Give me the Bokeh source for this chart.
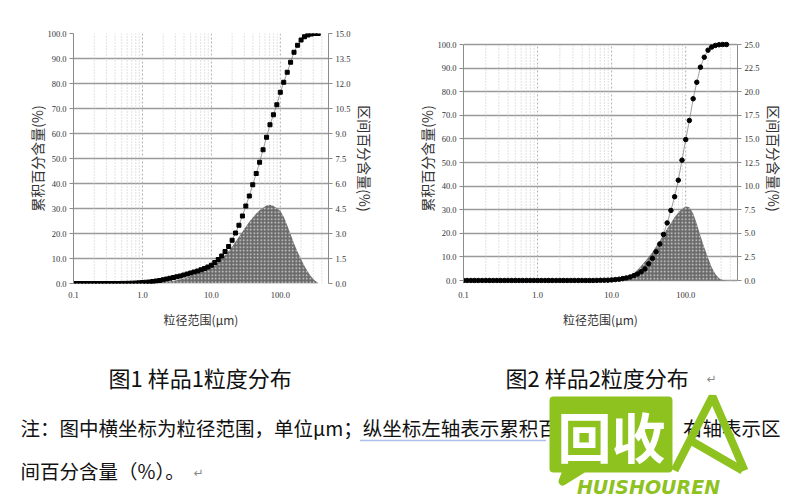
from bokeh.plotting import figure
from bokeh.models import Range1d, LinearAxis, FixedTicker, PrintfTickFormatter, Label
from bokeh.layouts import column, row
from bokeh.embed import file_html
from bokeh.resources import INLINE
from bokeh.core.properties import value

# ---------------- data ----------------
# particle size bins (um)
sizes = [0.100, 0.112, 0.126, 0.141, 0.158, 0.178, 0.200, 0.224, 0.251, 0.282,
         0.316, 0.355, 0.398, 0.447, 0.501, 0.562, 0.631, 0.708, 0.794, 0.891,
         1.00, 1.12, 1.26, 1.41, 1.58, 1.78, 2.00, 2.24, 2.51, 2.82,
         3.16, 3.55, 3.98, 4.47, 5.01, 5.62, 6.31, 7.08, 7.94, 8.91,
         10.0, 11.2, 12.6, 14.1, 15.8, 17.8, 20.0, 22.4, 25.1, 28.2,
         31.6, 35.5, 39.8, 44.7, 50.1, 56.2, 63.1, 70.8, 79.4, 89.1,
         100, 112, 126, 141, 158, 178, 200, 224, 251, 282, 316, 355]

# sample 1: cumulative % (left axis) and interval % (right axis)
cum1 = [0, 0, 0, 0, 0, 0, 0, 0, 0, 0, 0, 0, 0, 0, 0.03, 0.05, 0.08, 0.12, 0.18, 0.26,
        0.4, 0.5, 0.6, 0.8, 1.0, 1.2, 1.5, 1.8, 2.1, 2.4, 2.7, 3.0, 3.4, 3.8, 4.2, 4.6, 5.0, 5.5, 6.0, 6.6,
        7.3, 8.4, 9.6, 11.0, 12.8, 14.8, 17.3, 20.2, 23.3, 27.0, 31.0, 35.0, 39.5, 44.0, 48.5, 53.5, 58.5, 63.5, 67.5, 71.5,
        76.5, 80.5, 84.5, 88.5, 92.5, 95.3, 97.4, 98.7, 99.4, 99.8, 100, 100]
dist1 = [0, 0, 0, 0, 0, 0, 0, 0, 0, 0, 0, 0, 0, 0, 0, 0, 0, 0, 0, 0,
         0, 0.01, 0.02, 0.03, 0.05, 0.065, 0.08, 0.1, 0.13, 0.16, 0.2, 0.25, 0.3, 0.37, 0.45, 0.53, 0.62, 0.7, 0.8, 0.88,
         0.95, 1.1, 1.3, 1.5, 1.7, 1.95, 2.2, 2.5, 2.8, 3.1, 3.4, 3.7, 3.95, 4.2, 4.4, 4.55, 4.68, 4.72, 4.65, 4.52,
         4.35, 4.0, 3.5, 2.95, 2.4, 1.9, 1.45, 1.05, 0.7, 0.4, 0.18, 0.03]

# sample 2
cum2 = [0, 0, 0, 0, 0, 0, 0, 0, 0, 0, 0, 0, 0, 0, 0, 0, 0, 0, 0, 0,
        0, 0, 0, 0, 0, 0, 0, 0, 0, 0, 0, 0, 0, 0, 0, 0, 0.05, 0.07, 0.1, 0.15,
        0.25, 0.38, 0.55, 0.8, 1.1, 1.5, 2.1, 2.8, 3.7, 4.9, 7.1, 9.4, 12.2, 15.5, 19.5, 24.4, 29.7, 35.5, 42.5, 51.0,
        59.7, 67.8, 77.0, 84.0, 90.4, 94.6, 97.6, 98.9, 99.6, 99.9, 100, 100]
dist2 = [0, 0, 0, 0, 0, 0, 0, 0, 0, 0, 0, 0, 0, 0, 0, 0, 0, 0, 0, 0,
         0, 0, 0, 0, 0, 0, 0, 0, 0, 0, 0, 0, 0, 0, 0, 0, 0, 0, 0, 0,
         0.0, 0.05, 0.1, 0.2, 0.35, 0.55, 0.8, 1.15, 1.55, 2.0, 2.5, 3.0, 3.6, 4.2, 4.8, 5.5, 6.1, 6.7, 7.2, 7.6,
         7.85, 7.75, 7.1, 6.0, 4.75, 3.5, 2.4, 1.4, 0.7, 0.25, 0.05, 0.0]

left_ticks = [0, 10, 20, 30, 40, 50, 60, 70, 80, 90, 100]
right_ticks1 = [0, 1.5, 3.0, 4.5, 6.0, 7.5, 9.0, 10.5, 12.0, 13.5, 15.0]
right_ticks2 = [0, 2.5, 5.0, 7.5, 10.0, 12.5, 15.0, 17.5, 20.0, 22.5, 25.0]
x_ticks = [0.1, 1, 10, 100]
x_minor = [0.2, 0.3, 0.4, 0.5, 0.6, 0.7, 0.8, 0.9, 2, 3, 4, 5, 6, 7, 8, 9,
           20, 30, 40, 50, 60, 70, 80, 90, 200, 300, 400, 500]

x_label = "粒径范围(μm)"
left_label = "累积百分含量(%)"
right_label = "区间百分含量(%)"
captions = ["图1 样品1粒度分布", "图2 样品2粒度分布"]
note_lines = ["注：图中横坐标为粒径范围，单位μm；纵坐标左轴表示累积百分含量（%），右轴表示区",
              "间百分含量（%）。"]

CJK = "Noto Sans CJK SC"
NUM = "Liberation Serif"


def style_axis(ax):
    ax.axis_line_color = "#8c8c8c"
    ax.major_tick_line_color = "#8c8c8c"
    ax.minor_tick_line_color = None
    ax.major_tick_in = 0
    ax.major_tick_out = 4
    ax.major_label_standoff = 3
    ax.major_label_text_font = NUM
    ax.major_label_text_font_size = "8.5px"
    ax.major_label_text_color = "#333333"
    ax.axis_label_text_font = CJK
    ax.axis_label_text_font_size = "14px"
    ax.axis_label_text_font_style = "normal"
    ax.axis_label_text_color = "#333333"


def make_chart(cum, dist, rmax, rticks, width, borders, yspan, marker, msize):
    bl, br, bt, bb = borders
    ylo, yhi = yspan          # visible left-axis span (data units) of the frame
    k = rmax / 100.0
    p = figure(width=width, height=348, x_axis_type="log", title=None,
               x_range=Range1d(0.1, 500), y_range=Range1d(ylo, yhi),
               output_backend="svg", toolbar_location=None,
               min_border_left=bl, min_border_right=br,
               min_border_top=bt, min_border_bottom=bb)
    p.outline_line_color = None
    p.background_fill_color = "white"
    p.border_fill_color = "white"
    p.extra_y_ranges = {"r": Range1d(ylo * k, yhi * k)}

    # x axis
    xa = p.xaxis[0]
    xa.ticker = FixedTicker(ticks=x_ticks, minor_ticks=x_minor)
    xa.formatter = PrintfTickFormatter(format="%.1f")
    style_axis(xa)
    xa.axis_line_color = None
    xa.major_tick_out = 0
    xa.major_label_standoff = 4
    xa.axis_label = x_label
    xa.axis_label_standoff = 10
    xa.axis_label_text_font_size = "12px"

    # left axis
    ya = p.yaxis[0]
    ya.ticker = FixedTicker(ticks=left_ticks)
    ya.formatter = PrintfTickFormatter(format="%.1f")
    ya.bounds = (0, 100)
    style_axis(ya)
    ya.axis_label = left_label
    ya.axis_label_standoff = -3

    # right axis
    ra = LinearAxis(y_range_name="r", ticker=FixedTicker(ticks=rticks),
                    formatter=PrintfTickFormatter(format="%.1f"), bounds=(0, rmax))
    style_axis(ra)
    ra.axis_label = right_label
    ra.axis_label_standoff = 2
    p.add_layout(ra, "right")

    # grids
    p.ygrid.grid_line_color = "#9a9a9a"
    p.ygrid.grid_line_width = 1.4
    p.xgrid.visible = False
    n_maj = len(x_ticks)
    n_min = len(x_minor)
    p.segment(x0=x_minor, y0=[0] * n_min, x1=x_minor, y1=[100] * n_min,
              line_color="#c4c4c4", line_dash="1 2", line_width=1)
    p.segment(x0=x_ticks, y0=[0] * n_maj, x1=x_ticks, y1=[100] * n_maj,
              line_color="#b0b0b0", line_dash="2 2", line_width=1)

    # interval distribution (right axis)
    p.varea(x=sizes, y1=[0] * len(sizes), y2=dist, y_range_name="r",
            fill_color="#6a6a6a", hatch_pattern="dot", hatch_color="#d8d8d8",
            hatch_scale=3.5, hatch_weight=1)
    # cumulative (left axis)
    p.line(sizes, cum, line_color="#777777", line_width=0.7)
    p.scatter(sizes, cum, marker=marker, size=msize, color="black")
    return p


# both frames span y=33..283 px; chart 2's 0..100 sits at y=280..44
p1 = make_chart(cum1, dist1, 15, right_ticks1, 400, (73, 72, 33, 65), (0, 100), "square", 4)
p2 = make_chart(cum2, dist2, 25, right_ticks2, 398, (63, 61, 33, 65),
                (-3 / 2.36, 100 + 11 / 2.36), "circle", 4.5)

# paragraph mark below chart 2 (screen units)
p2.add_layout(Label(x=322, y=-39, x_units="screen", y_units="screen", text="↵",
                    text_font_size="12px", text_align="center", text_baseline="middle",
                    text_color="#777777", text_font="DejaVu Sans"))

# ---------------- captions and note ----------------
p3 = figure(width=798, height=150, x_range=Range1d(0, 798), y_range=Range1d(150, 0),
            output_backend="svg", toolbar_location=None, title=None,
            min_border=0, min_border_left=0, min_border_right=0,
            min_border_top=0, min_border_bottom=0)
p3.axis.visible = False
p3.grid.visible = False
p3.outline_line_color = None

p3.text(x=[108, 505], y=[28, 28], text=captions, text_font=value(CJK),
        text_font_size="22px", text_baseline="middle", text_color="#111111")
p3.text(x=[20, 20], y=[79, 122], text=note_lines, text_font=value(CJK),
        text_font_size="19.5px", text_baseline="middle", text_color="#111111")
p3.text(x=[706, 193], y=[30, 124], text=["↵", "↵"], text_font=value("DejaVu Sans"),
        text_font_size="12px", text_baseline="middle", text_color="#888888")
# spell-check wavy underline
p3.line([360, 545], [92, 92], line_color="#5b7fd6", line_width=1.5, line_dash="1 1")

# watermark logo
green = "#8dc21f"
p3.patch([553, 668, 668, 583, 562, 567, 553], [52, 52, 120, 120, 133, 120, 120],
         fill_color=green, line_color=green, line_join="round", line_width=8)
p3.text(x=[611], y=[87], text=["回收"], text_font=value(CJK), text_font_size="54px",
        text_font_style="bold", text_align="center", text_baseline="middle",
        text_color="white")
p3.multi_line([[674, 712, 744], [690, 742]], [[122, 48, 122], [92, 122]],
              line_color=green, line_width=8)
p3.text(x=[648], y=[138], text=["HUISHOUREN"], text_font=value("DejaVu Sans"),
        text_font_size="19px", text_font_style="bold italic", text_align="center",
        text_baseline="middle", text_color=green)

layout = column(row(p1, p2), p3)
open("out.html", "w").write(file_html(layout, INLINE))
